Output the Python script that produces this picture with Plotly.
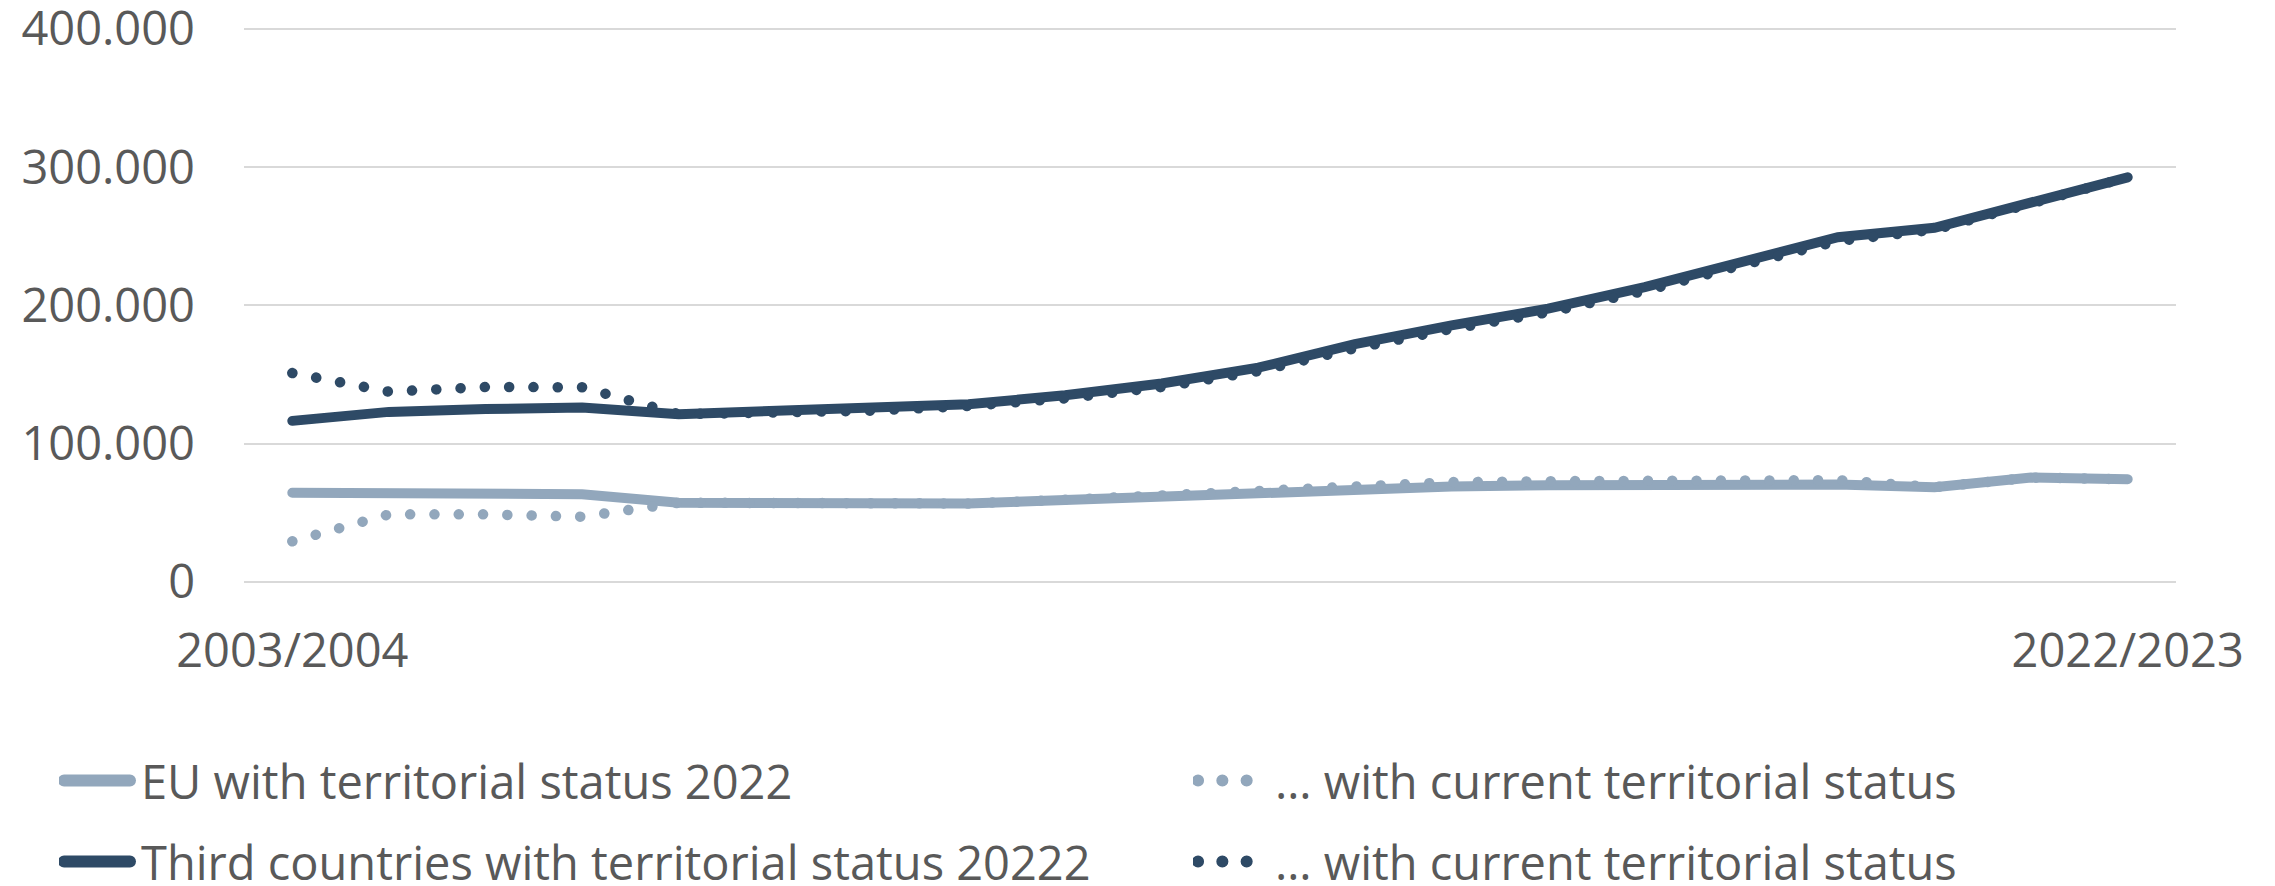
import plotly.graph_objects as go

years = ["2003/2004", "2004/2005", "2005/2006", "2006/2007", "2007/2008",
         "2008/2009", "2009/2010", "2010/2011", "2011/2012", "2012/2013",
         "2013/2014", "2014/2015", "2015/2016", "2016/2017", "2017/2018",
         "2018/2019", "2019/2020", "2020/2021", "2021/2022", "2022/2023"]

eu_status_2022 = [64500, 64500, 64000, 63500, 57300, 56800, 56100, 56800, 59200, 62100,
                  64500, 67400, 69000, 70000, 70500, 70500, 70500, 68500, 75500, 74300]
eu_current = [29400, 48900, 48900, 47200, 57300, 56800, 56100, 56800, 59400, 62500,
              65500, 68600, 72200, 72900, 73700, 73800, 73600, 68500, 75500, 74300]
third_status_2022 = [116500, 123000, 125100, 126100, 121300, 123500, 125100, 128500, 135000, 143500,
                     155000, 172000, 185600, 197600, 213200, 232000, 249300, 256100, 273900, 292600]
third_current = [151100, 137600, 141000, 140800, 121300, 122300, 123900, 127300, 132800, 141000,
                 152500, 169000, 183000, 195000, 210500, 229000, 246500, 254800, 273900, 292600]

tick_labels = ["2003/2004", "2022/2023"]
y_ticks = [0, 100000, 200000, 300000, 400000]

LIGHT = "#92A7BC"
DARK = "#2E4A66"
TXT = "#595959"
FONT = "Open Sans"
FS = 47
DOT = "0.1px,24.2px"

fig = go.Figure()
fig.add_trace(go.Scatter(x=years, y=eu_status_2022, mode="lines",
                         name="EU with territorial status 2022",
                         line=dict(color=LIGHT, width=10), legend="legend"))
fig.add_trace(go.Scatter(x=years, y=eu_current, mode="lines",
                         name="\u2026 with current territorial status",
                         line=dict(color=LIGHT, width=10.5, dash=DOT), legend="legend2"))
fig.add_trace(go.Scatter(x=years, y=third_status_2022, mode="lines",
                         name="Third countries with territorial status 20222",
                         line=dict(color=DARK, width=10), legend="legend3"))
fig.add_trace(go.Scatter(x=years, y=third_current, mode="lines",
                         name="\u2026 with current territorial status",
                         line=dict(color=DARK, width=10.5, dash=DOT), legend="legend4"))

W, H = 2275, 886
L, R, T, B = 244, 99, 26, 304

leg_common = dict(orientation="v", xanchor="left", yanchor="middle",
                  xref="container", yref="container",
                  font=dict(family=FONT, size=FS, color=TXT),
                  bgcolor="rgba(0,0,0,0)", itemwidth=72)

def cx(x):
    return x / W

def cy(y):
    return 1 - y / H

fig.update_layout(
    width=W, height=H,
    margin=dict(l=L, r=R, t=T, b=B, autoexpand=False),
    paper_bgcolor="white", plot_bgcolor="white",
    separators=",.",
    font=dict(family=FONT, size=FS, color=TXT),
    showlegend=True,
    legend=dict(x=cx(59), y=cy(781), **leg_common),
    legend2=dict(x=cx(1193), y=cy(781), **leg_common),
    legend3=dict(x=cx(59), y=cy(862), **leg_common),
    legend4=dict(x=cx(1193), y=cy(862), **leg_common),
    xaxis=dict(type="category", categoryorder="array", categoryarray=years,
               range=[-0.5, len(years) - 0.5],
               tickmode="array", tickvals=tick_labels, ticktext=tick_labels,
               showgrid=False, showline=False, zeroline=False, ticks="",
               ticklabelstandoff=37, ticklabeloverflow="allow",
               tickfont=dict(family=FONT, size=FS, color=TXT)),
    yaxis=dict(range=[0, 402000], tickmode="array", tickvals=y_ticks,
               tickformat=",d", showgrid=True, gridcolor="#D9D9D9", gridwidth=2,
               zeroline=True, zerolinecolor="#D9D9D9", zerolinewidth=2,
               showline=False, ticks="", ticklabelstandoff=48,
               ticklabeloverflow="allow",
               tickfont=dict(family=FONT, size=FS, color=TXT)),
)

post = """
var gd = document.getElementById('{plot_id}');
function fixup(){
  gd.querySelectorAll('.scatterlayer .js-line').forEach(function(p){p.style.strokeLinecap='round';});
  gd.querySelectorAll('.legendlines path').forEach(function(p){
    p.style.strokeLinecap='round';
    p.style.strokeWidth='12px';
    p.setAttribute('d','M5,0h66');
  });
}
fixup();
gd.on('plotly_afterplot', fixup);
"""

fig.write_html("out.html", post_script=post)
